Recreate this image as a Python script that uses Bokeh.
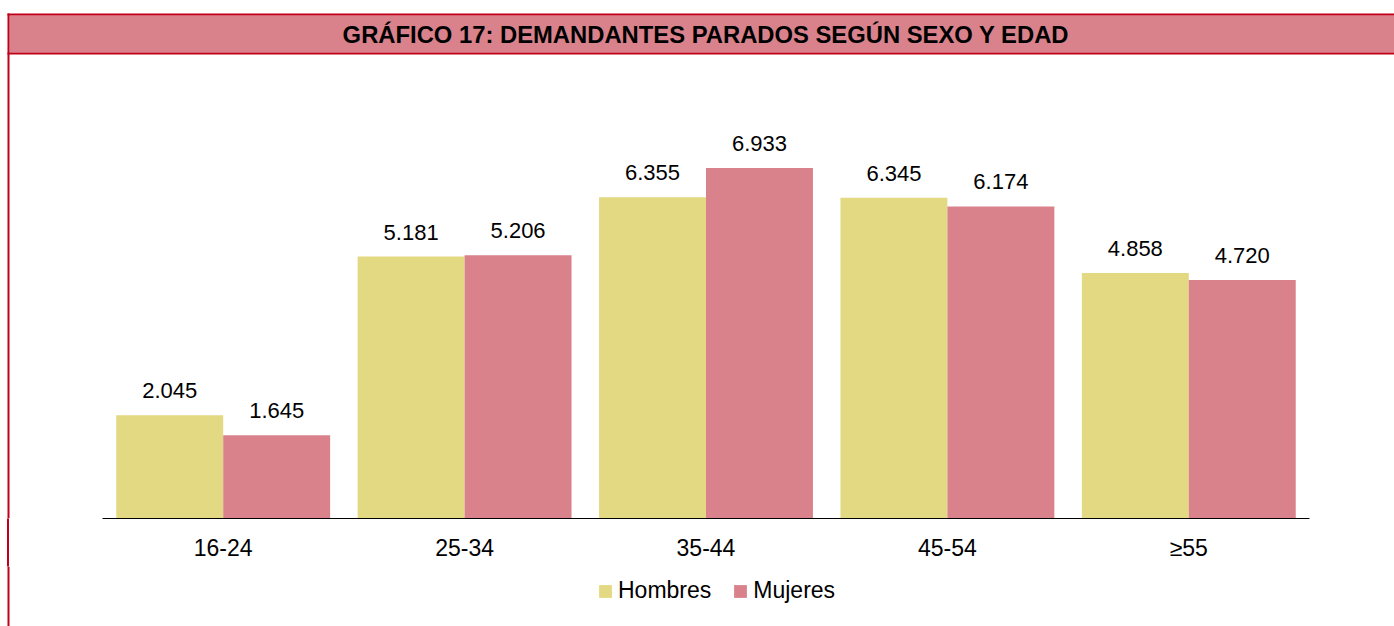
from bokeh.plotting import figure
from bokeh.layouts import column
from bokeh.models import (ColumnDataSource, Range1d, Legend, LegendItem, BoxAnnotation, Label,
                          LinearAxis, FixedTicker)
from bokeh.core.properties import value
from bokeh.embed import file_html
from bokeh.resources import INLINE

# ---- data ----
categories = ["16-24", "25-34", "35-44", "45-54", "≥55"]
hombres = [2045, 5181, 6355, 6345, 4858]
mujeres = [1645, 5206, 6933, 6174, 4720]
series_names = ["Hombres", "Mujeres"]
title_text = "GRÁFICO 17: DEMANDANTES PARADOS SEGÚN SEXO Y EDAD"

# ---- style / layout ----
YELLOW = "#E2D982"
PINK = "#D9828B"
DARKRED = "#C0001A"
FONT = "Liberation Sans"
W = 1394
BASE_Y = 518          # pixel row of the category axis
AXIS_PANEL = 48       # height of the axis panel below the bars
LEG_H = 626 - BASE_Y - AXIS_PANEL
AX_L, AX_R = 102, 1309
PX_PER_UNIT = 0.05055
cat_w = (AX_R - AX_L) / len(categories)


def fmt(v):
    return f"{v:,}".replace(",", ".")


pos = [i + 0.5 for i in range(len(categories))]
off = 0.2215
bw = 0.443
src = ColumnDataSource(dict(
    xh=[x - off for x in pos], xm=[x + off for x in pos],
    h=hombres, m=mujeres,
    hl=[fmt(v) for v in hombres], ml=[fmt(v) for v in mujeres],
))

# ---- main figure: header + bars + axis ----
p = figure(width=W, height=BASE_Y + AXIS_PANEL,
           x_range=Range1d(-AX_L / cat_w, len(categories) + (W - AX_R) / cat_w),
           y_range=Range1d(0, BASE_Y / PX_PER_UNIT),
           x_axis_location=None, y_axis_location=None,
           output_backend="svg", toolbar_location=None,
           min_border_left=0, min_border_right=0, min_border_top=0,
           min_border_bottom=AXIS_PANEL)
p.extra_x_ranges = {"px": Range1d(0, W)}
p.extra_y_ranges = {"py": Range1d(BASE_Y, 0)}
p.outline_line_color = None
p.background_fill_color = "white"
p.border_fill_alpha = 0
p.xgrid.visible = False
p.ygrid.visible = False

ax = LinearAxis(ticker=FixedTicker(ticks=pos),
                major_label_overrides={x: c for x, c in zip(pos, categories)},
                bounds=(0, len(categories)))
ax.axis_line_color = "black"
ax.axis_line_width = 1
ax.major_tick_line_color = None
ax.minor_tick_line_color = None
ax.major_tick_out = 0
ax.major_tick_in = 0
ax.major_label_standoff = 16
ax.major_label_text_font = FONT
ax.major_label_text_font_size = "23px"
ax.major_label_text_color = "black"
p.add_layout(ax, "below")

p.vbar(x="xh", top="h", width=bw, source=src, fill_color=YELLOW, line_color=None)
p.vbar(x="xm", top="m", width=bw, source=src, fill_color=PINK, line_color=None)

for xcol, col, lab in (("xh", "h", "hl"), ("xm", "m", "ml")):
    p.text(x=xcol, y=col, text=lab, source=src,
           text_align="center", text_baseline="bottom", y_offset=-17,
           text_font=value(FONT), text_font_size=value("22px"), text_color="black")


# header bar and frame lines (pixel ranges)
def pxbox(fig, l, r, t, b, color, yname="py"):
    fig.add_layout(BoxAnnotation(left=l, right=r, top=t, bottom=b,
                                 x_range_name="px", y_range_name=yname,
                                 fill_color=color, fill_alpha=1, line_color=None,
                                 level="underlay"))


pxbox(p, 9, W, 15, 52, PINK)
pxbox(p, 7, W, 13, 15, DARKRED)
pxbox(p, 7, W, 52, 54, DARKRED)
pxbox(p, 7, 9, 13, BASE_Y, DARKRED)
p.add_layout(Label(x=705.5, y=33.5, x_range_name="px", y_range_name="py", text=title_text,
                   text_align="center", text_baseline="middle", text_font=FONT,
                   text_font_style="bold", text_font_size="23.8px", text_color="black"))

# ---- legend strip ----
q = figure(width=W, height=LEG_H, x_range=Range1d(0, W), y_range=Range1d(LEG_H, 0),
           x_axis_location=None, y_axis_location=None,
           output_backend="svg", toolbar_location=None,
           min_border_left=0, min_border_right=0, min_border_top=0, min_border_bottom=0)
q.outline_line_color = None
q.background_fill_color = "white"
q.border_fill_alpha = 0
q.xgrid.visible = False
q.ygrid.visible = False
# zero-height proxy bars that only carry the legend swatches
proxy = ColumnDataSource(dict(x=[0], top=[0]))
lh = q.vbar(x="x", top="top", bottom=0, width=1, source=proxy, fill_color=YELLOW, line_color=None)
lm = q.vbar(x="x", top="top", bottom=0, width=1, source=proxy, fill_color=PINK, line_color=None)
legend = Legend(items=[LegendItem(label=series_names[0], renderers=[lh]),
                       LegendItem(label=series_names[1], renderers=[lm])],
                orientation="horizontal", location=(597, 22),
                border_line_color=None, background_fill_alpha=0,
                glyph_width=16, glyph_height=16, label_standoff=5, spacing=21,
                label_text_font=FONT, label_text_font_size="23px", label_text_color="black",
                padding=0, margin=0)
q.add_layout(legend)
q.add_layout(BoxAnnotation(left=7, right=9, top=0, bottom=LEG_H,
                           fill_color=DARKRED, fill_alpha=1, line_color=None))

layout = column(p, q, spacing=0,
                styles={"background-image": f"linear-gradient({DARKRED}, {DARKRED})",
                        "background-repeat": "no-repeat",
                        "background-position": "7px 13px",
                        "background-size": "2px 613px"})

open("out.html", "w").write(file_html(layout, INLINE))
